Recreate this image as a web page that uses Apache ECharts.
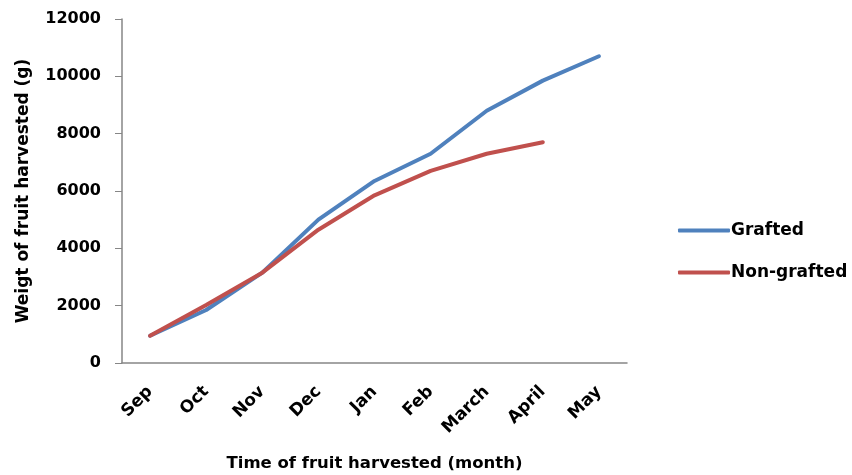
<!DOCTYPE html>
<html><head><meta charset="utf-8">
<script src="https://cdn.jsdelivr.net/npm/echarts@6/dist/echarts.min.js"></script>
<style>html,body{margin:0;padding:0;background:#fff}#c{width:852px;height:475px}</style>
</head><body><div id="c"></div>
<script>
const months = ['Sep','Oct','Nov','Dec','Jan','Feb','March','April','May'];
const grafted = [950, 1850, 3150, 5000, 6350, 7300, 8800, 9850, 10700];
const nonGrafted = [950, 2020, 3150, 4650, 5850, 6700, 7300, 7700, null];
const yTicks = [0, 2000, 4000, 6000, 8000, 10000, 12000];

const font = "'DejaVu Sans', sans-serif";
const chart = echarts.init(document.getElementById('c'));
chart.setOption({
  animation: false,
  backgroundColor: '#fff',
  grid: {left: 122, right: 225, top: 19, bottom: 112, containLabel: false, outerBoundsMode: 'none'},
  legend: {
    orient: 'vertical', left: 673, top: 217, itemWidth: 52, itemHeight: 4, itemGap: 25, icon: 'roundRect',
    textStyle: {fontFamily: font, fontSize: 17, color: '#000', fontWeight: 'bold', padding: [0,0,0,-4]},
    data: ['Grafted', 'Non-grafted']
  },
  xAxis: {
    type: 'category', data: months, boundaryGap: true,
    name: 'Time of fruit harvested (month)', nameLocation: 'middle', nameGap: 92,
    nameTextStyle: {fontFamily: font, fontSize: 16.5, fontWeight: 'bold', color: '#000'},
    axisLine: {lineStyle: {color: '#868686', width: 1.5}},
    axisTick: {show: false},
    axisLabel: {rotate: 45, fontFamily: font, fontSize: 17, fontWeight: 'bold', color: '#000', margin: 26}
  },
  yAxis: {
    type: 'value', min: yTicks[0], max: yTicks[yTicks.length-1], interval: 2000,
    name: 'Weigt of fruit harvested (g)', nameLocation: 'middle', nameGap: 90,
    nameTextStyle: {fontFamily: font, fontSize: 17, fontWeight: 'bold', color: '#000'},
    axisLine: {show: true, lineStyle: {color: '#868686', width: 1.5}},
    axisTick: {show: true, length: 7, lineStyle: {color: '#868686'}},
    splitLine: {show: false},
    axisLabel: {fontFamily: font, fontSize: 16, fontWeight: 'bold', color: '#000', margin: 21,
      formatter: v => String(v)}
  },
  series: [
    {name: 'Grafted', type: 'line', data: grafted, symbol: 'none', color: '#4F81BD',
     lineStyle: {width: 4, color: '#4F81BD', cap: 'round', join: 'round'}},
    {name: 'Non-grafted', type: 'line', data: nonGrafted, symbol: 'none', color: '#C0504D',
     lineStyle: {width: 4, color: '#C0504D', cap: 'round', join: 'round'}}
  ]
});
</script></body></html>
